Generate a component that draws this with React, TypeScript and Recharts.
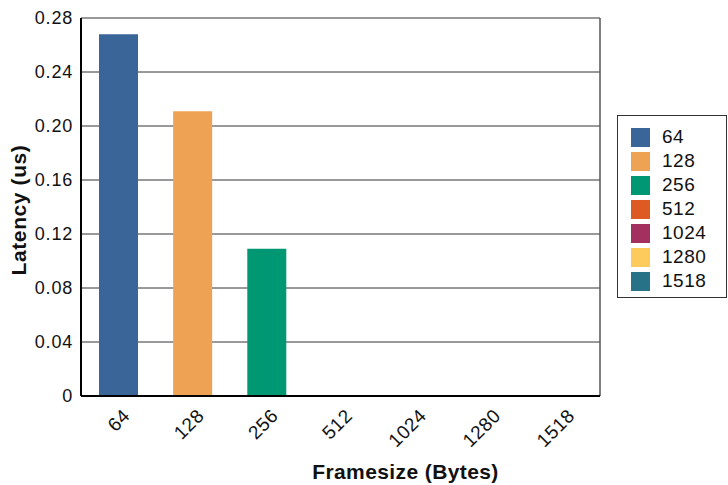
import { BarChart, Bar, Cell, XAxis, YAxis, CartesianGrid } from "recharts";

const FRAMESIZES = ["64", "128", "256", "512", "1024", "1280", "1518"];
const LATENCY = [0.268, 0.211, 0.109, 0, 0, 0, 0];
const COLORS = ["#3a6598", "#eea354", "#009872", "#dd5a22", "#a3305f", "#fdcb5b", "#277286"];
const Y_TICKS = [0, 0.04, 0.08, 0.12, 0.16, 0.2, 0.24, 0.28];

const data = FRAMESIZES.map((f, i) => ({ name: f, latency: LATENCY[i] }));

const FONT = "'Liberation Sans', Arial, sans-serif";

function FrameTick({ x, y, payload }: any) {
  return (
    <g transform={`translate(${x + 13},${y + 13})`}>
      <text transform="rotate(-45)" textAnchor="end" fontSize={19} letterSpacing={0.5} fill="#111" fontFamily={FONT}>
        {payload.value}
      </text>
    </g>
  );
}

export default function App() {
  return (
    <div style={{ position: "fixed", left: 0, top: 0, width: 728, height: 485, background: "#fff" }}>
      <BarChart
        width={728}
        height={485}
        data={data}
        margin={{ top: 18, right: 128, bottom: 29, left: 21 }}
        style={{ fontFamily: FONT }}
      >
        <CartesianGrid vertical={false} stroke="#333" strokeWidth={1} />
        <CartesianGrid
          horizontal={false}
          stroke="#555"
          strokeWidth={1.5}
          verticalCoordinatesGenerator={({ offset }: any) => [offset.left + offset.width]}
        />
        <XAxis
          dataKey="name"
          height={60}
          tickLine={false}
          axisLine={{ stroke: "#000", strokeWidth: 2 }}
          tick={<FrameTick />}
          interval={0}
          label={{
            content: ({ viewBox }: any) => (
              <text
                x={viewBox.x + viewBox.width / 2 + 65}
                y={479}
                textAnchor="middle"
                fontSize={21}
                letterSpacing={0.4}
                fontWeight="bold"
                fill="#111"
                fontFamily={FONT}
              >
                Framesize (Bytes)
              </text>
            ),
          }}
        />
        <YAxis
          width={60}
          domain={[0, 0.28]}
          ticks={Y_TICKS}
          tickLine={false}
          axisLine={{ stroke: "#000", strokeWidth: 2 }}
          tick={{ fontSize: 18, fill: "#111", fontFamily: FONT, letterSpacing: 0.8 }}
          tickFormatter={(v: number) => (v === 0 ? "0" : v.toFixed(2))}
          label={{
            content: ({ viewBox }: any) => {
              const cx = viewBox.x + 5;
              const cy = viewBox.y + viewBox.height / 2 + 3;
              return (
                <text
                  x={cx}
                  y={cy}
                  transform={`rotate(-90, ${cx}, ${cy})`}
                  textAnchor="middle"
                  fontSize={21}
                  letterSpacing={0.6}
                  fontWeight="bold"
                  fill="#111"
                  fontFamily={FONT}
                >
                  Latency (us)
                </text>
              );
            },
          }}
        />
        <Bar dataKey="latency" barSize={39} isAnimationActive={false}>
          {data.map((d, i) => (
            <Cell key={d.name} fill={COLORS[i]} />
          ))}
        </Bar>
      </BarChart>
      <div
        style={{
          position: "absolute",
          left: 617,
          top: 115,
          width: 110,
          height: 183,
          border: "1.5px solid #333",
          fontFamily: FONT,
          fontSize: 19,
          letterSpacing: 0.5,
          color: "#111",
          boxSizing: "border-box",
          paddingTop: 9,
        }}
      >
        {FRAMESIZES.map((f, i) => (
          <div key={f} style={{ display: "flex", alignItems: "center", height: 24 }}>
            <span
              style={{ display: "inline-block", width: 19, height: 19, background: COLORS[i], marginLeft: 13, marginRight: 12 }}
            />
            <span style={{ lineHeight: "24px" }}>{f}</span>
          </div>
        ))}
      </div>
    </div>
  );
}
